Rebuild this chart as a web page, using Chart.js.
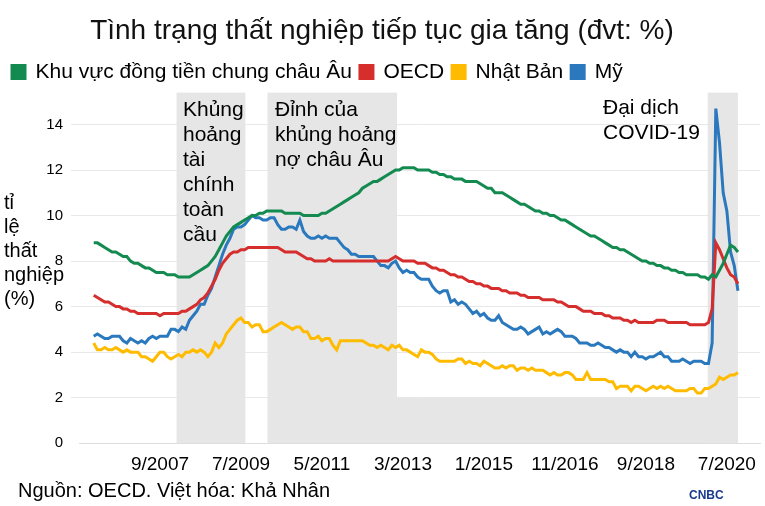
<!DOCTYPE html>
<html><head><meta charset="utf-8">
<script src="https://cdn.jsdelivr.net/npm/chart.js@4"></script>
<style>
body{margin:0;background:#fff;font-family:"Liberation Sans",Arial,sans-serif;}
#wrap{position:relative;width:765px;height:506px;}
.t{position:absolute;color:#000;white-space:pre;}
</style></head><body>
<div id="wrap"><canvas id="c" width="765" height="506"></canvas>
<div class="t" style="left:4px;top:190px;font-size:20px;line-height:24px;">tỉ
lệ
thất
nghiệp
(%)</div>
<div class="t" style="left:183px;top:96px;font-size:21px;line-height:25px;">Khủng
hoảng
tài
chính
toàn
cầu</div>
<div class="t" style="left:275px;top:96px;font-size:21px;line-height:25px;">Đỉnh của
khủng hoảng
nợ châu Âu</div>
<div class="t" style="left:603px;top:94px;font-size:21px;line-height:25px;">Đại dịch
COVID-19</div>
<div class="t" style="left:18px;top:479px;font-size:20px;">Nguồn: OECD. Việt hóa: Khả Nhân</div>
<div class="t" style="left:689px;top:488px;font-size:12px;font-weight:bold;color:#1a3a8a;">CNBC</div>
</div>
<script>
// monthly 3/2006 .. 10/2020 (with empty padding months before and after)
const PAD_BEFORE = 4, PAD_AFTER = 6;
const categories = [];
for (let i = -PAD_BEFORE; i < 176 + PAD_AFTER; i++) { const k = 2 + i + 12; const m = k % 12 + 1, y = 2005 + Math.floor(k / 12); categories.push(m + "/" + y); }
const tickLabels = ["9/2007","7/2009","5/2011","3/2013","1/2015","11/2016","9/2018","7/2020"];
const euroArea = [8.8,8.8,8.7,8.6,8.5,8.4,8.4,8.3,8.2,8.2,
8.0,7.9,7.9,7.8,7.7,7.7,7.6,7.5,7.5,7.5,7.4,7.4,
7.4,7.3,7.3,7.3,7.3,7.4,7.5,7.6,7.7,7.8,8.0,8.2,
8.5,8.8,9.1,9.3,9.5,9.6,9.7,9.8,9.9,10.0,10.0,10.1,
10.1,10.2,10.2,10.2,10.2,10.2,10.1,10.1,10.1,10.1,10.1,10.0,
10.0,10.0,10.0,10.0,10.1,10.1,10.2,10.3,10.4,10.5,10.6,10.7,
10.8,10.9,11.0,11.2,11.3,11.4,11.5,11.5,11.6,11.7,11.8,11.9,
12.0,12.0,12.1,12.1,12.1,12.1,12.0,12.0,12.0,12.0,11.9,11.9,
11.8,11.8,11.7,11.7,11.6,11.6,11.6,11.5,11.5,11.5,11.5,11.4,
11.3,11.2,11.2,11.0,11.0,11.0,10.9,10.8,10.7,10.6,10.5,10.5,
10.4,10.3,10.2,10.2,10.1,10.1,10.0,10.0,9.9,9.8,9.8,9.7,
9.6,9.5,9.4,9.3,9.2,9.1,9.1,9.0,8.9,8.8,8.7,8.6,
8.6,8.5,8.5,8.4,8.3,8.2,8.1,8.0,8.0,7.9,7.9,7.8,
7.8,7.7,7.7,7.6,7.6,7.5,7.5,7.4,7.4,7.4,7.4,7.3,
7.3,7.2,7.4,7.3,7.6,7.9,8.3,8.7,8.6,8.4];
const oecd = [6.5,6.4,6.3,6.2,6.2,6.1,6.0,6.0,5.9,5.9,
5.8,5.8,5.7,5.7,5.7,5.7,5.7,5.7,5.6,5.7,5.7,5.7,
5.7,5.7,5.8,5.8,5.9,6.0,6.1,6.3,6.4,6.6,6.9,7.2,
7.6,7.9,8.1,8.3,8.4,8.4,8.5,8.5,8.6,8.6,8.6,8.6,
8.6,8.6,8.6,8.6,8.6,8.5,8.4,8.4,8.4,8.4,8.3,8.2,
8.1,8.1,8.0,8.0,8.0,8.0,8.1,8.0,8.0,8.0,8.0,8.0,
8.0,8.0,8.0,8.0,8.0,8.0,8.0,8.0,8.0,8.0,8.0,8.1,
8.2,8.1,8.0,8.0,8.0,8.0,7.9,7.9,7.9,7.8,7.7,7.7,
7.6,7.6,7.5,7.4,7.4,7.3,7.3,7.2,7.1,7.1,7.0,7.0,
6.9,6.9,6.8,6.8,6.8,6.7,6.7,6.6,6.6,6.6,6.5,6.5,
6.4,6.4,6.4,6.4,6.3,6.3,6.3,6.3,6.2,6.2,6.1,6.0,
6.0,6.0,5.9,5.8,5.8,5.8,5.7,5.7,5.7,5.6,5.6,5.5,
5.5,5.5,5.4,5.4,5.3,5.4,5.3,5.3,5.3,5.3,5.3,5.4,
5.4,5.4,5.3,5.3,5.3,5.3,5.3,5.3,5.2,5.2,5.2,5.2,
5.2,5.3,5.9,8.8,8.5,8.1,7.7,7.4,7.3,7.0];
const japan = [4.4,4.1,4.1,4.2,4.1,4.1,4.2,4.1,4.0,4.1,
4.0,4.0,4.0,3.8,3.8,3.7,3.6,3.8,4.0,4.0,3.8,3.7,
3.8,3.9,3.8,4.0,4.0,4.1,4.0,4.1,4.0,3.8,4.0,4.4,
4.2,4.4,4.8,5.0,5.2,5.4,5.5,5.3,5.3,5.1,5.2,5.2,
4.9,4.9,5.0,5.1,5.2,5.3,5.2,5.1,5.0,5.1,5.1,4.9,
4.9,4.6,4.6,4.7,4.5,4.6,4.6,4.3,4.1,4.5,4.5,4.5,
4.5,4.5,4.5,4.5,4.4,4.3,4.3,4.2,4.3,4.2,4.1,4.3,
4.2,4.3,4.1,4.1,4.0,3.9,3.8,4.1,4.0,4.0,3.9,3.7,
3.6,3.6,3.6,3.6,3.6,3.7,3.7,3.5,3.6,3.5,3.5,3.4,
3.6,3.5,3.4,3.3,3.3,3.4,3.3,3.4,3.4,3.2,3.3,3.3,
3.2,3.3,3.2,3.2,3.2,3.1,3.0,3.1,3.0,3.0,3.1,3.1,
3.0,2.8,2.8,2.8,3.1,2.8,2.8,2.8,2.8,2.8,2.7,2.7,
2.4,2.5,2.5,2.5,2.3,2.5,2.5,2.4,2.3,2.4,2.5,2.4,
2.5,2.4,2.5,2.4,2.3,2.3,2.3,2.3,2.4,2.4,2.2,2.2,
2.4,2.4,2.5,2.6,2.9,2.8,2.9,3.0,3.0,3.1];
const usa = [4.7,4.8,4.7,4.6,4.6,4.7,4.7,4.7,4.5,4.4,
4.6,4.5,4.4,4.5,4.4,4.6,4.7,4.6,4.7,4.7,4.7,5.0,
5.0,4.9,5.1,5.0,5.4,5.6,5.8,6.1,6.1,6.5,6.8,7.3,
7.8,8.3,8.7,9.0,9.4,9.5,9.5,9.6,9.8,10.0,9.9,9.9,
9.8,9.8,9.9,9.9,9.6,9.4,9.4,9.5,9.5,9.4,9.8,9.3,
9.1,9.0,9.0,9.1,9.0,9.1,9.0,9.0,9.0,8.8,8.6,8.5,
8.3,8.3,8.2,8.2,8.2,8.2,8.2,8.0,7.8,7.8,7.7,7.9,
8.0,7.7,7.5,7.6,7.5,7.5,7.3,7.2,7.2,7.2,6.9,6.7,
6.6,6.7,6.7,6.2,6.3,6.1,6.2,6.1,5.9,5.7,5.8,5.6,
5.7,5.5,5.4,5.4,5.6,5.3,5.2,5.1,5.0,5.0,5.1,5.0,
4.8,4.9,5.0,5.1,4.8,4.9,4.8,4.9,5.0,4.9,4.7,4.7,
4.7,4.6,4.4,4.4,4.4,4.3,4.3,4.4,4.3,4.2,4.2,4.1,
4.0,4.1,4.0,4.0,3.8,4.0,3.8,3.8,3.7,3.8,3.8,3.9,
4.0,3.8,3.8,3.6,3.6,3.6,3.7,3.6,3.5,3.6,3.6,3.6,
3.5,3.5,4.4,14.7,13.2,11.0,10.2,8.4,7.8,6.7];
// shaded periods (month index from 3/2006)
const shadeStart = [22.5, 47.2, 166.8, 82.4];
const shadeEnd = [41.2, 82.4, 175, 175];
const shadeTop = [15.4, 15.4, 15.4, 2];

const padSeries = a => Array(PAD_BEFORE).fill(null).concat(a, Array(PAD_AFTER).fill(null));
const shadePlugin = {id:'shade', beforeDatasetsDraw(ch){
  const {ctx, scales:{x, y}} = ch;
  ctx.save(); ctx.fillStyle = '#e6e6e6';
  for (let i = 0; i < shadeStart.length; i++) {
    const x0 = x.getPixelForValue(shadeStart[i] + PAD_BEFORE), x1 = x.getPixelForValue(shadeEnd[i] + PAD_BEFORE);
    const y0 = y.getPixelForValue(shadeTop[i]), y1 = y.getPixelForValue(0);
    ctx.fillRect(x0, y0, x1 - x0, y1 - y0);
  }
  ctx.restore();
}};

const F = '"Liberation Sans", Arial';
const ds = (label, data, color) => ({label, data: padSeries(data), borderColor: color, backgroundColor: color, borderWidth: 3, pointRadius: 0, tension: 0});
new Chart(document.getElementById('c'), {
  type: 'line',
  data: {labels: categories, datasets: [
    ds('Khu vực đồng tiền chung châu Âu', euroArea, '#138a50'),
    ds('OECD', oecd, '#d62d2d'),
    ds('Nhật Bản', japan, '#ffbb00'),
    ds('Mỹ', usa, '#2a78bd')]},
  options: {
    responsive: false, animation: false,
    layout: {padding: {left: 4, right: 5, top: 0, bottom: 28}},
    plugins: {
      title: {display: true, text: 'Tình trạng thất nghiệp tiếp tục gia tăng (đvt: %)', color: '#111',
        font: {family: F, size: 28, weight: 'normal'}, padding: {top: 14, bottom: 6}},
      legend: {align: 'start', labels: {boxWidth: 13, boxHeight: 13, padding: 8, color: '#000',
        font: {family: F, size: 21}}},
      tooltip: {enabled: false}
    },
    scales: {
      x: {offset: false, grid: {display: false}, border: {color: '#ddd'},
        ticks: {autoSkip: false, maxRotation: 0, color: '#000', padding: 2, font: {family: F, size: 19},
          callback: function(v){ const l = categories[v]; return tickLabels.includes(l) ? l : null; }}},
      y: {min: 0, max: 15.4, border: {display: false},
        afterFit: s => { s.width = 75; },
        grid: {color: c => (c.tick && c.tick.value % 2 === 0 && c.tick.value > 0) ? '#e8e8e8' : 'rgba(0,0,0,0)'},
        ticks: {stepSize: 2, color: '#000', padding: 8, font: {family: F, size: 15},
          callback: v => v % 2 === 0 ? v : null}}
    }
  },
  plugins: [shadePlugin]
});
</script></body></html>
